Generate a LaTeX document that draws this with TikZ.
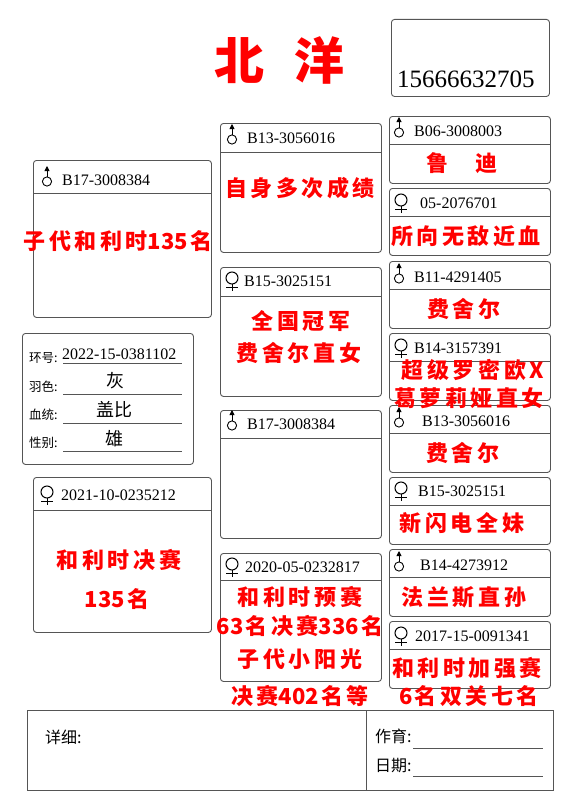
\documentclass[tikz,border=0pt]{standalone}
\usepackage{fontspec}
\setmainfont{Liberation Serif}
\newfontfamily\cjk{Noto Sans CJK SC}
\newfontfamily\brush{Noto Sans CJK SC}[LetterSpace=16]
\newcommand\nums[1]{{\addfontfeature{LetterSpace=0}#1\hspace{2pt}}}
\usetikzlibrary{arrows.meta,positioning}
\definecolor{boxline}{HTML}{555555}
\definecolor{ink}{HTML}{FF0000}

\begin{document}
\begin{tikzpicture}[
    x=1pt, y=-1pt,
    card/.style={draw=boxline, rounded corners=3pt, line width=0.9pt,
      inner sep=0pt, anchor=north west},
    rule/.style={draw=boxline, line width=0.9pt},
    ring/.style={anchor=west, inner sep=0pt, font=\fontsize{16}{16}\selectfont},
    note/.style={inner sep=0pt, text=ink, font=\brush\bfseries\fontsize{22}{22}\selectfont},
    label/.style={anchor=west, inner sep=0pt, font=\cjk\fontsize{12.5}{12.5}\selectfont},
    field/.style={inner sep=0pt, font=\cjk\fontsize{18}{18}\selectfont},
    sire/.pic={\draw[line width=0.9pt] (0pt,-1.5pt) circle (4.6pt);
      \draw[line width=0.9pt, -{Triangle[length=5pt,width=5pt]}] (0pt,3.1pt) -- (0pt,14pt);},
    dam/.pic={\draw[line width=1pt] (0pt,3pt) circle (6pt);
      \draw[line width=1pt] (0pt,-3pt) -- (0pt,-10pt) (-6pt,-6pt) -- (6pt,-6pt);}
  ]
  \useasboundingbox (0,0) rectangle (565,800);

  % title and phone
  \node[inner sep=0pt, text=ink, font=\cjk\bfseries\fontsize{50}{50}\selectfont] (title)
    at (279,60) {北\hspace{30pt}洋};
  \node[card, minimum width=158pt, minimum height=77pt] (phone) at (391,19) {};
  \node[anchor=south west, inner sep=0pt, font=\fontsize{25}{25}\selectfont] (tel)
    at (397,88) {15666632705};

  % first generation
  \node[card, minimum width=178pt, minimum height=157pt] (sA) at (33,160) {};
  \draw[rule] ([yshift=-33pt]sA.north west) -- ([yshift=-33pt]sA.north east);
  \pic at (47,180) {sire};
  \node[ring] (sAid) at (62,180) {B17-3008384};
  \node[note] (sAnote) at (118,241) {子代和利时\nums{135}名};

  \node[card, minimum width=171pt, minimum height=131pt] (info) at (22,333) {};
  \node[label] (ringlbl) at (29,358) {环号:};
  \node[anchor=west, inner sep=0pt, font=\fontsize{16}{16}\selectfont] (ringno)
    at (62,354) {2022-15-0381102};
  \node[label] (colourlbl) at (29,387) {羽色:};
  \node[field] (colour) at (115,381) {灰};
  \node[label] (linelbl) at (29,415) {血统:};
  \node[field] (strain) at (114,410) {盖比};
  \node[label] (sexlbl) at (29,443) {性别:};
  \node[field] (sex) at (114,439) {雄};
  \foreach \yy in {363,394,423,451}
    \draw[boxline, line width=0.7pt] (63,\yy) -- (182,\yy);

  \node[card, minimum width=178pt, minimum height=155pt] (dB) at (33,477) {};
  \draw[rule] ([yshift=-33pt]dB.north west) -- ([yshift=-33pt]dB.north east);
  \pic at (47,495) {dam};
  \node[ring] (dBid) at (61,495) {2021-10-0235212};
  \node[note] (dBnote) at (119,560) {和利时决赛};
  \node[note] (dBnote2) at (117,599) {\nums{135}名};

  % second generation
  \node[card, minimum width=161pt, minimum height=129pt] (sC) at (220,123) {};
  \draw[rule] ([yshift=-29pt]sC.north west) -- ([yshift=-29pt]sC.north east);
  \pic at (232,138) {sire};
  \node[ring] (sCid) at (247,138) {B13-3056016};
  \node[note] (sCnote) at (300,188) {自身多次成绩};

  \node[card, minimum width=161pt, minimum height=129pt] (dD) at (220,267) {};
  \draw[rule] ([yshift=-29pt]dD.north west) -- ([yshift=-29pt]dD.north east);
  \pic at (232,281) {dam};
  \node[ring] (dDid) at (244,281) {B15-3025151};
  \node[note] (dDnote) at (301,321) {全国冠军};
  \node[note] (dDnote2) at (299,353) {费舍尔直女};

  \node[card, minimum width=161pt, minimum height=128pt] (sE) at (220,410) {};
  \draw[rule] ([yshift=-28pt]sE.north west) -- ([yshift=-28pt]sE.north east);
  \pic at (232,424) {sire};
  \node[ring] (sEid) at (247,424) {B17-3008384};

  \node[card, minimum width=161pt, minimum height=128pt] (dF) at (220,553) {};
  \draw[rule] ([yshift=-27pt]dF.north west) -- ([yshift=-27pt]dF.north east);
  \pic at (232,567) {dam};
  \node[ring] (dFid) at (245,567) {2020-05-0232817};
  \node[note] (dFnote) at (300,597) {和利时预赛};
  \node[note] (dFnote2) at (300,626) {\nums{63}名决赛\nums{336}名};
  \node[note] (dFnote3) at (300,659) {子代小阳光};
  \node[note] (dFnote4) at (300,696) {决赛\nums{402}名等};

  % third generation
  \foreach \top/\nm in {116/g,188/h,261/i,333/j,405/k,477/l,549/m,621/n} {
    \node[card, minimum width=161pt, minimum height=67pt] (\nm) at (389,\top) {};
    \draw[rule] ([yshift=-28pt]\nm.north west) -- ([yshift=-28pt]\nm.north east);
  }
  \pic at (399,131) {sire};
  \node[ring] (gid) at (414,131) {B06-3008003};
  \node[note] (gnote) at (462,163) {鲁\hspace{28pt}迪};
  \pic at (401,203) {dam};
  \node[ring] (hid) at (420,203) {05-2076701};
  \node[note] (hnote) at (466,236) {所向无敌近血};
  \pic at (399,277) {sire};
  \node[ring] (iid) at (414,277) {B11-4291405};
  \node[note] (inote) at (464,309) {费舍尔};
  \pic at (401,348) {dam};
  \node[ring] (jid) at (414,348) {B14-3157391};
  \node[note] (jnote) at (473,370) {超级罗密欧X};
  \node[note] (jnote2) at (469,398) {葛萝莉娅直女};
  \pic at (399,421) {sire};
  \node[ring] (kid) at (422,421) {B13-3056016};
  \node[note] (knote) at (463,453) {费舍尔};
  \pic at (401,491) {dam};
  \node[ring] (lid) at (418,491) {B15-3025151};
  \node[note] (lnote) at (462,523) {新闪电全妹};
  \pic at (399,565) {sire};
  \node[ring] (mid) at (420,565) {B14-4273912};
  \node[note] (mnote) at (464,597) {法兰斯直孙};
  \pic at (401,636) {dam};
  \node[ring] (nid) at (415,636) {2017-15-0091341};
  \node[note] (nnote) at (467,668) {和利时加强赛};
  \node[note] (nnote2) at (469,696) {\nums{6}名双关七名};

  % footer
  \node[draw=boxline, line width=0.9pt, minimum width=526pt, minimum height=80pt,
    inner sep=0pt, anchor=north west] (foot) at (27,710) {};
  \draw[rule] (366,710) -- (366,790);
  \node[anchor=west, inner sep=0pt, font=\cjk\fontsize{16}{16}\selectfont] (detail)
    at (45,737) {详细:};
  \node[anchor=west, inner sep=0pt, font=\cjk\fontsize{16}{16}\selectfont] (breeder)
    at (375,736) {作育:};
  \node[anchor=west, inner sep=0pt, font=\cjk\fontsize{16}{16}\selectfont] (date)
    at (375,766) {日期:};
  \draw[boxline, line width=0.7pt] (413,748) -- (543,748);
  \draw[boxline, line width=0.7pt] (413,776) -- (543,776);
\end{tikzpicture}
\end{document}
